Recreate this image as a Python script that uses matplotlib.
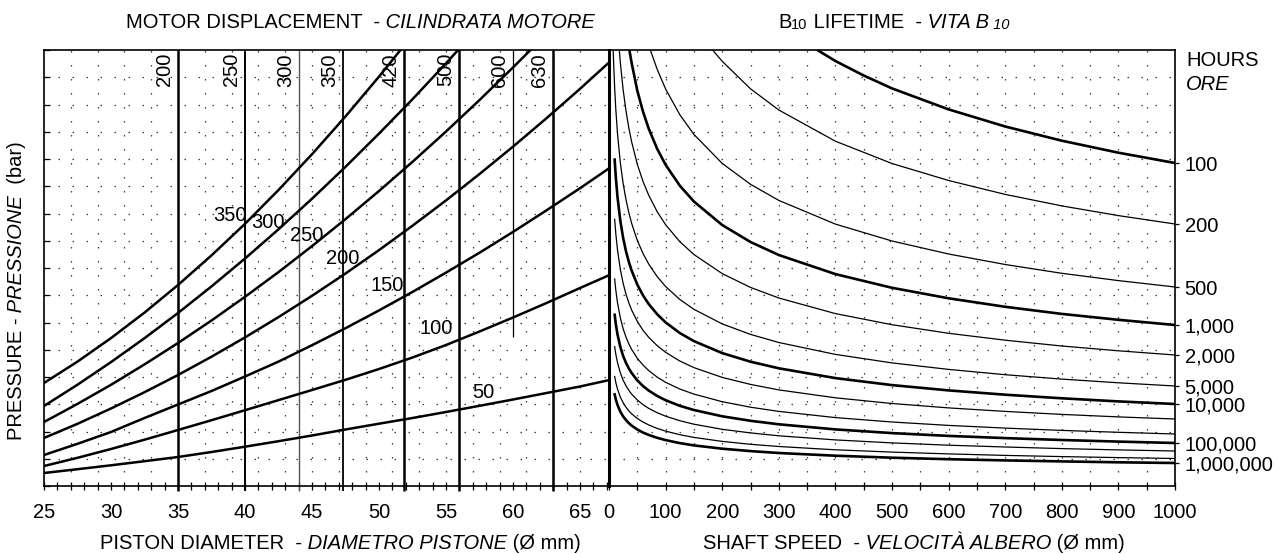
import matplotlib
matplotlib.use('Agg')
import matplotlib.pyplot as plt
import numpy as np
from matplotlib.ticker import MultipleLocator

plt.rcParams['font.family'] = ['Liberation Sans', 'DejaVu Sans']

# ---------------- data ----------------
# Left panel: pressure curves vs piston diameter (mm); pressure in plot units
curve_names = ['350', '300', '250', '200', '150', '100', '50']
d_350 = [25, 27.5, 30, 32.5, 35, 37.5, 40, 42.5, 45, 47.5, 50, 51.6]
p_350 = [103, 124.4, 147.9, 173.4, 201, 230.6, 262.2, 296, 331.8, 369.6, 409.4, 436]
d_300 = [25, 27.5, 30, 32.5, 35, 37.5, 40, 42.5, 45, 47.5, 50, 52.5, 55, 55.9]
p_300 = [80, 101.3, 123.9, 147.8, 173, 199.6, 227.5, 256.7, 287.3, 319.2, 352.4, 386.8,
         422.7, 436]
d_250 = [25, 27.5, 30, 32.5, 35, 37.5, 40, 42.5, 45, 47.5, 50, 52.5, 55, 57.5, 60, 61.3]
p_250 = [64, 82.1, 101.2, 121.6, 143, 165.5, 189.2, 213.9, 239.9, 266.9, 295, 324.2,
         354.5, 386, 418.6, 436]
d_200 = [25, 27.5, 30, 32.5, 35, 37.5, 40, 42.5, 45, 47.5, 50, 52.5, 55, 57.5, 60, 62.5,
         65, 67.2]
p_200 = [48, 62.2, 77.5, 93.8, 111, 129.3, 148.6, 168.9, 190.2, 212.5, 235.9, 260.3,
         285.6, 312, 339.4, 367.8, 397.2, 424]
d_150 = [25, 27.5, 30, 32.5, 35, 37.5, 40, 42.5, 45, 47.5, 50, 52.5, 55, 57.5, 60, 62.5,
         65, 67.2]
p_150 = [31, 42.2, 54, 68, 81.5, 95, 109.5, 124.4, 140.8, 157.8, 175.6, 194.1, 213.4,
         233.3, 254.1, 275.7, 297.8, 318]
d_100 = [25, 27.5, 30, 32.5, 35, 37.5, 40, 42.5, 45, 47.5, 50, 52.5, 55, 57.5, 60, 62.5,
         65, 67.2]
p_100 = [20, 28.2, 37, 46.3, 56, 65.8, 75.8, 85.9, 96, 106.2, 117, 128.5, 141, 154.5,
         168.5, 183, 198, 211]
d_50 = [25, 27.5, 30, 32.5, 35, 37.5, 40, 42.5, 45, 47.5, 50, 52.5, 55, 57.5, 60, 62.5,
        65, 67.2]
p_50 = [13, 16.8, 20.7, 24.8, 29, 34, 39.3, 44.8, 50.5, 56.5, 62.3, 68, 74, 80.2, 86.5,
        93, 99.5, 106]
# curve label positions (diameter, pressure)
label_d = [38.9, 41.7, 44.6, 47.3, 50.6, 54.3, 57.8]
label_p = [271, 264, 251, 228, 201, 158, 93]

# Motor displacement lines (label, piston diameter)
displacement = ['200', '250', '300', '350', '420', '500', '600', '630']
disp_diam = [35.0, 40.0, 44.0, 47.3, 51.9, 56.0, 60.0, 63.0]

# Right panel: B10 lifetime curves, shaft speed vs pressure
speed_100 = [368, 400, 450, 500, 600, 700, 800, 900, 1000]
life_100 = [436, 425, 410.5, 397.6, 376.6, 359.5, 345.3, 333.3, 323]
speed_200 = [183, 200, 250, 300, 400, 500, 600, 700, 800, 900, 1000]
life_200 = [436, 424.7, 397.2, 376, 344.8, 322.5, 305.5, 291.6, 280.1, 270.4, 262]
speed_500 = [73, 85, 100, 125, 150, 200, 250, 300, 400, 500, 600, 700, 800, 900, 1000]
life_500 = [436, 416.9, 397, 371.4, 351.6, 322.6, 301.7, 285.6, 261.9, 245, 232, 221.5,
            212.7, 205.4, 199]
speed_1000 = [36, 40, 50, 60, 70, 85, 100, 125, 150, 200, 250, 300, 400, 500, 600, 700,
              800, 900, 1000]
life_1000 = [436, 423, 395.4, 374.5, 357.6, 337.3, 321.2, 300.4, 284.5, 261, 244, 231,
             211.9, 198.2, 187.7, 179.2, 172.1, 166.2, 161]
speed_2000 = [18.2, 20, 25, 30, 35, 40, 50, 60, 70, 85, 100, 125, 150, 200, 250, 300, 400,
              500, 600, 700, 800, 900, 1000]
life_2000 = [436, 423.6, 396.1, 375.2, 358.2, 344.1, 321.7, 304.7, 291, 274.4, 261.3,
             244.4, 231.5, 212.4, 198.6, 188, 172.4, 161.3, 152.7, 145.8, 140, 135.2, 131]
speed_5000 = [7.4, 8, 10, 12, 15, 20, 25, 30, 35, 40, 50, 60, 70, 85, 100, 125, 150, 200,
              250, 300, 400, 500, 600, 700, 800, 900, 1000]
life_5000 = [436, 425.8, 398.1, 376.9, 352.5, 323.4, 302.4, 286.4, 273.4, 262.7, 245.6,
             232.6, 222.1, 209.5, 199.5, 186.6, 176.7, 162.1, 151.6, 143.5, 131.6, 123.1,
             116.6, 111.3, 106.9, 103.2, 100]
speed_low = [10, 12, 15, 20, 25, 30, 35, 40, 50, 60, 70, 85, 100, 125, 150, 200, 250, 300,
             400, 500, 600, 700, 800, 900, 1000]
life_10000 = [326.4, 309.1, 289.1, 265.2, 248.0, 234.8, 224.2, 215.4, 201.4, 190.7, 182.1,
              171.8, 163.6, 153.0, 144.9, 132.9, 124.3, 117.7, 107.9, 100.9, 95.6, 91.3,
              87.7, 84.6, 82]
life_20000 = [266.7, 252.5, 236.2, 216.7, 202.6, 191.9, 183.2, 176.0, 164.6, 155.8, 148.8,
              140.4, 133.7, 125.0, 118.4, 108.6, 101.6, 96.1, 88.2, 82.5, 78.1, 74.6, 71.6,
              69.1, 67]
life_50000 = [207.0, 196.0, 183.3, 168.2, 157.2, 148.9, 142.2, 136.6, 127.7, 121.0, 115.5,
              108.9, 103.7, 97.0, 91.9, 84.3, 78.8, 74.6, 68.4, 64.0, 60.6, 57.9, 55.6,
              53.7, 52]
life_100000 = [171.2, 162.1, 151.6, 139.1, 130.0, 123.2, 117.6, 113.0, 105.6, 100.0, 95.5,
               90.1, 85.8, 80.2, 76.0, 69.7, 65.2, 61.7, 56.6, 52.9, 50.1, 47.9, 46.0,
               44.4, 43]
life_200000 = [139.3, 131.9, 123.4, 113.2, 105.8, 100.2, 95.7, 91.9, 86.0, 81.4, 77.7,
               73.3, 69.8, 65.3, 61.8, 56.7, 53.1, 50.2, 46.1, 43.1, 40.8, 39.0, 37.4,
               36.1, 35]
life_500000 = [109.5, 103.6, 96.9, 88.9, 83.2, 78.8, 75.2, 72.2, 67.5, 64.0, 61.1, 57.6,
               54.9, 51.3, 48.6, 44.6, 41.7, 39.5, 36.2, 33.9, 32.1, 30.6, 29.4, 28.4, 27.5]
life_1000000 = [91.6, 86.7, 81.1, 74.4, 69.6, 65.9, 62.9, 60.4, 56.5, 53.5, 51.1, 48.2,
                45.9, 42.9, 40.6, 37.3, 34.9, 33.0, 30.3, 28.3, 26.8, 25.6, 24.6, 23.7, 23]
hours_labels = ['100', '200', '500', '1,000', '2,000', '5,000', '10,000', '100,000',
                '1,000,000']
x_ticks_left = [25, 30, 35, 40, 45, 50, 55, 60, 65]
x_ticks_right = [0, 100, 200, 300, 400, 500, 600, 700, 800, 900, 1000]

# ---------------- figure ----------------
W, H = 1274.0, 554.0
X0, XM, X1 = 44, 609, 1175
YT, YB = 50, 486
PMAX = 436
FS = 14.5

fig = plt.figure(figsize=(W / 100, H / 100), dpi=100)
axL = fig.add_axes([X0 / W, 1 - YB / H, (XM - X0) / W, (YB - YT) / H])
axR = fig.add_axes([XM / W, 1 - YB / H, (X1 - XM) / W, (YB - YT) / H])
axL.set_xlim(25, 67.16)
axL.set_ylim(0, PMAX)
axR.set_xlim(0, 1000)
axR.set_ylim(0, PMAX)

# dotted background grid
GRID = dict(color='#3a3a3a', lw=0.9, ls=(0, (1.2, 10)), zorder=0.5)
for p in np.arange(27.25, PMAX, 27.25):
    axL.axhline(p, **GRID)
    axR.axhline(p, **GRID)
for d in np.arange(27, 67, 2):
    axL.axvline(d, **GRID)
for n in np.arange(50, 1000, 50):
    axR.axvline(n, **GRID)

# displacement lines
disp_lw = [1.8, 1.4, 1.0, 1.3, 1.8, 1.8, 0.9, 1.8]
disp_col = ['k', 'k', '#555555', 'k', 'k', 'k', 'k', 'k']
for lab, d, lw, c in zip(displacement, disp_diam, disp_lw, disp_col):
    y0 = 149 if lab == '600' else -5
    axL.plot([d, d], [y0, PMAX], color=c, lw=lw, clip_on=False, zorder=2,
             solid_capstyle='butt')
    axL.text(d - 1.0, PMAX - 3, lab, rotation=90, ha='center', va='top', fontsize=FS,
             zorder=4)

# pressure curves
left_d = [d_350, d_300, d_250, d_200, d_150, d_100, d_50]
left_p = [p_350, p_300, p_250, p_200, p_150, p_100, p_50]
for dd, pp in zip(left_d, left_p):
    axL.plot(dd, pp, color='k', lw=1.8, zorder=3, solid_joinstyle='round')
for name, ld, lp in zip(curve_names, label_d, label_p):
    axL.text(ld, lp, name, ha='center', va='center', fontsize=FS, zorder=4)

# lifetime curves
right_curves = [
    (speed_100, life_100, 1.9), (speed_200, life_200, 0.9), (speed_500, life_500, 0.9),
    (speed_1000, life_1000, 1.9), (speed_2000, life_2000, 0.9),
    (speed_5000, life_5000, 0.9), (speed_low, life_10000, 1.9),
    (speed_low, life_20000, 0.9), (speed_low, life_50000, 0.9),
    (speed_low, life_100000, 1.9), (speed_low, life_200000, 0.9),
    (speed_low, life_500000, 0.9), (speed_low, life_1000000, 1.9)]
for ss, ll, lw in right_curves:
    axR.plot(ss, ll, color='k', lw=lw, zorder=3, solid_joinstyle='round')

label_ends = [life_100[-1], life_200[-1], life_500[-1], life_1000[-1], life_2000[-1],
              life_5000[-1], life_10000[-1], life_100000[-1], life_1000000[-1]]

# axes styling
for ax in (axL, axR):
    for s in ax.spines.values():
        s.set_linewidth(1.2)
axL.spines['right'].set_visible(False)
axR.spines['left'].set_linewidth(2.2)

axL.set_xticks(x_ticks_left)
axL.set_xticklabels([str(v) for v in x_ticks_left])
axL.xaxis.set_minor_locator(MultipleLocator(1))
axL.tick_params(axis='x', which='both', direction='inout', length=6, width=0.9,
                labelsize=FS, pad=9)
axL.yaxis.set_major_locator(MultipleLocator(27.25))
axL.tick_params(axis='y', which='major', direction='in', length=4, width=0.9,
                labelleft=False)

axR.set_xticks(x_ticks_right)
axR.set_xticklabels([str(v) for v in x_ticks_right])
axR.xaxis.set_minor_locator(MultipleLocator(50))
axR.tick_params(axis='x', which='both', direction='inout', length=6, width=0.9,
                labelsize=FS, pad=9)
axR.yaxis.tick_right()
axR.set_yticks(label_ends)
axR.set_yticklabels(hours_labels)
axR.tick_params(axis='y', which='major', direction='out', length=3, width=0.9,
                labelsize=FS, pad=4, left=False)


# ---------------- texts with mixed styles ----------------
def chain(x_px, y_px, parts, rotation=0):
    prev = None
    for txt, style, size in parts:
        if prev is None:
            if rotation == 0:
                prev = fig.text(x_px / W, 1 - y_px / H, txt, fontsize=size,
                                fontstyle=style, ha='left', va='baseline')
            else:
                prev = fig.text(x_px / W, 1 - y_px / H, txt, fontsize=size,
                                fontstyle=style, rotation=90, ha='center', va='bottom')
        else:
            xy = (1, 0) if rotation == 0 else (0, 1)
            prev = axL.annotate(txt, xy=xy, xycoords=prev, fontsize=size,
                                fontstyle=style, rotation=rotation, ha='left',
                                va='bottom', annotation_clip=False)
    return prev


TS = 14.5
chain(126, 28, [('MOTOR DISPLACEMENT  -', 'normal', TS),
                (' CILINDRATA MOTORE', 'italic', TS)])
chain(778, 28, [('B', 'normal', TS), ('10', 'normal', 10.5),
                (' LIFETIME  -', 'normal', TS), (' VITA B', 'italic', TS),
                (' 10', 'italic', 10.5)])
chain(100, 549, [('PISTON DIAMETER  -', 'normal', TS),
                 (' DIAMETRO PISTONE', 'italic', TS), (' (Ø mm)', 'normal', TS)])
chain(703, 549, [('SHAFT SPEED  -', 'normal', TS),
                 (' VELOCITÀ ALBERO', 'italic', TS), (' (Ø mm)', 'normal', TS)])
chain(17, 440, [('PRESSURE -', 'normal', TS), (' PRESSIONE', 'italic', TS),
                ('  (bar)', 'normal', TS)], rotation=90)

fig.text(1186 / W, 1 - 60 / H, 'HOURS', fontsize=FS, ha='left', va='center')
fig.text(1186 / W, 1 - 85 / H, 'ORE', fontsize=FS, fontstyle='italic', ha='left',
         va='center')

fig.savefig('out.png', dpi=100)
